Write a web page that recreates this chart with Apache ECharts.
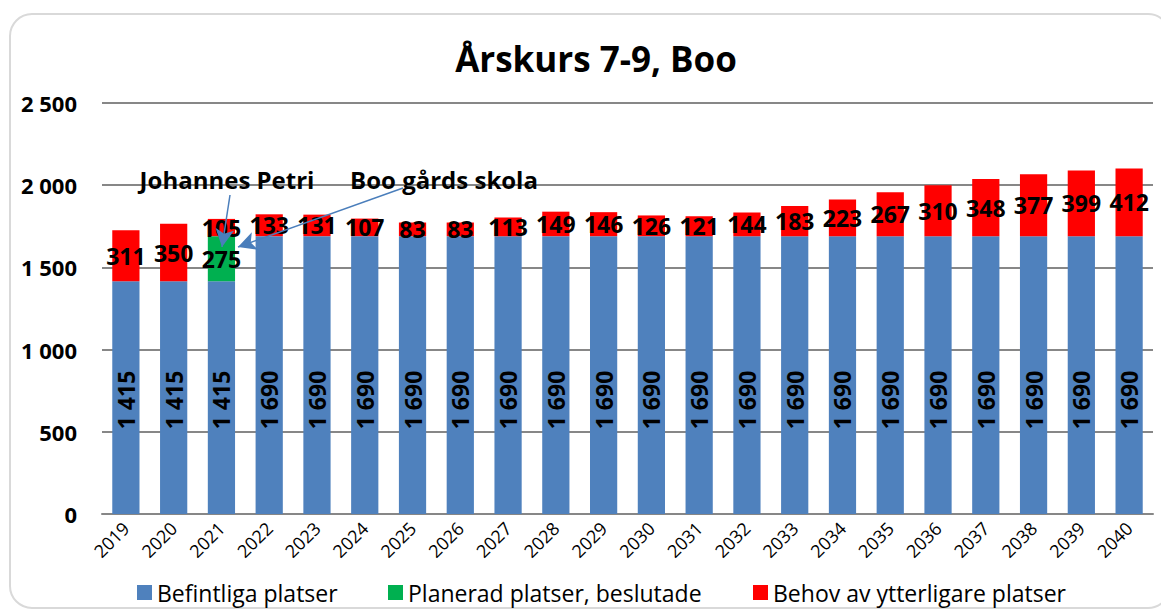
<!DOCTYPE html>
<html>
<head>
<meta charset="utf-8">
<script src="https://cdn.jsdelivr.net/npm/echarts@6/dist/echarts.min.js"></script>
<style>
  html, body { margin: 0; padding: 0; background: #fff; }
  #chart { width: 1161px; height: 614px; }
</style>
</head>
<body>
<div id="chart"></div>
<script>
// data
const years = ['2019', '2020', '2021', '2022', '2023', '2024', '2025', '2026', '2027', '2028', '2029',
  '2030', '2031', '2032', '2033', '2034', '2035', '2036', '2037', '2038', '2039', '2040'];
const befintliga = [1415, 1415, 1415, 1690, 1690, 1690, 1690, 1690, 1690, 1690, 1690,
  1690, 1690, 1690, 1690, 1690, 1690, 1690, 1690, 1690, 1690, 1690];
const planerad = [0, 0, 275, 0, 0, 0, 0, 0, 0, 0, 0, 0, 0, 0, 0, 0, 0, 0, 0, 0, 0, 0];
const behov = [311, 350, 105, 133, 131, 107, 83, 83, 113, 149, 146, 126, 121, 144, 183, 223,
  267, 310, 348, 377, 399, 412];
const seriesNames = ['Befintliga platser', 'Planerad platser, beslutade', 'Behov av ytterligare platser'];

const FONT = '"Open Sans", "Noto Sans", sans-serif';

// "2 500" style thousands
function fmt(v) {
  return String(v).replace(/\B(?=(\d{3})+(?!\d))/g, ' ');
}

const chart = echarts.init(document.getElementById('chart'), null, { renderer: 'svg' });

const valueLabel = {
  show: true,
  position: 'inside',
  color: '#000',
  fontFamily: FONT,
  fontWeight: 'bold',
  fontSize: 23,
  formatter: (p) => (p.value ? fmt(p.value) : '')
};

function legendAt(x, name) {
  return {
    left: x,
    top: 576,
    data: [name],
    icon: 'rect',
    itemWidth: 15,
    itemHeight: 15,
    itemGap: 7,
    textStyle: { fontFamily: FONT, fontSize: 23, color: '#000' },
    selectedMode: false
  };
}

const option = {
  animation: false,
  color: ['#4f81bd', '#00b050', '#ff0000'],
  title: {
    text: 'Årskurs 7-9, Boo',
    left: 591,
    top: 36,
    textAlign: 'center',
    textStyle: { fontFamily: FONT, fontWeight: 'bold', fontSize: 35, color: '#000' }
  },
  legend: [
    legendAt(132, seriesNames[0]),
    legendAt(383, seriesNames[1]),
    legendAt(748, seriesNames[2])
  ],
  grid: { left: 102, right: 8, top: 103, bottom: 100 },
  xAxis: {
    type: 'category',
    data: years,
    axisLine: { lineStyle: { color: '#878787', width: 2 } },
    axisTick: { show: false },
    axisLabel: {
      rotate: 45,
      margin: 11,
      interval: 0,
      fontFamily: FONT,
      fontSize: 18,
      color: '#000'
    }
  },
  yAxis: {
    type: 'value',
    min: 0,
    max: 2500,
    interval: 500,
    axisLine: { show: false },
    axisTick: { show: false },
    splitLine: { lineStyle: { color: '#878787', width: 2 } },
    axisLabel: {
      margin: 25,
      fontFamily: FONT,
      fontWeight: 'bold',
      fontSize: 22,
      color: '#000',
      formatter: fmt
    }
  },
  graphic: [
    {
      type: 'rect',
      shape: { x: 10, y: 14, width: 1160, height: 594, r: 22 },
      style: { fill: 'none', stroke: '#d9d9d9', lineWidth: 2 },
      silent: true
    },
    {
      type: 'text',
      x: 227, y: 179,
      style: {
        text: 'Johannes Petri', align: 'center', verticalAlign: 'middle',
        font: 'bold 24px ' + FONT, fill: '#000'
      },
      z: 10
    },
    {
      type: 'text',
      x: 444, y: 179,
      style: {
        text: 'Boo gårds skola', align: 'center', verticalAlign: 'middle',
        font: 'bold 24px ' + FONT, fill: '#000'
      },
      z: 10
    }
  ],
  series: [
    {
      name: seriesNames[0],
      type: 'bar',
      stack: 'total',
      barWidth: '57%',
      data: befintliga,
      label: Object.assign({}, valueLabel, {
        position: 'insideBottom',
        distance: 114,
        rotate: 90,
        align: 'center',
        verticalAlign: 'middle'
      })
    },
    {
      name: seriesNames[1],
      type: 'bar',
      stack: 'total',
      data: planerad,
      label: valueLabel
    },
    {
      name: seriesNames[2],
      type: 'bar',
      stack: 'total',
      data: behov,
      label: valueLabel,
      markLine: {
        silent: true,
        z: 20,
        symbol: ['none', 'arrow'],
        symbolSize: [14, 18],
        label: { show: false },
        lineStyle: { color: '#4a7ebb', width: 1.5, type: 'solid' },
        data: [
          [{ x: 230, y: 195 }, { x: 222, y: 247 }],
          [{ x: 403, y: 188 }, { x: 238, y: 247 }]
        ]
      }
    }
  ]
};

chart.setOption(option);
</script>
</body>
</html>
